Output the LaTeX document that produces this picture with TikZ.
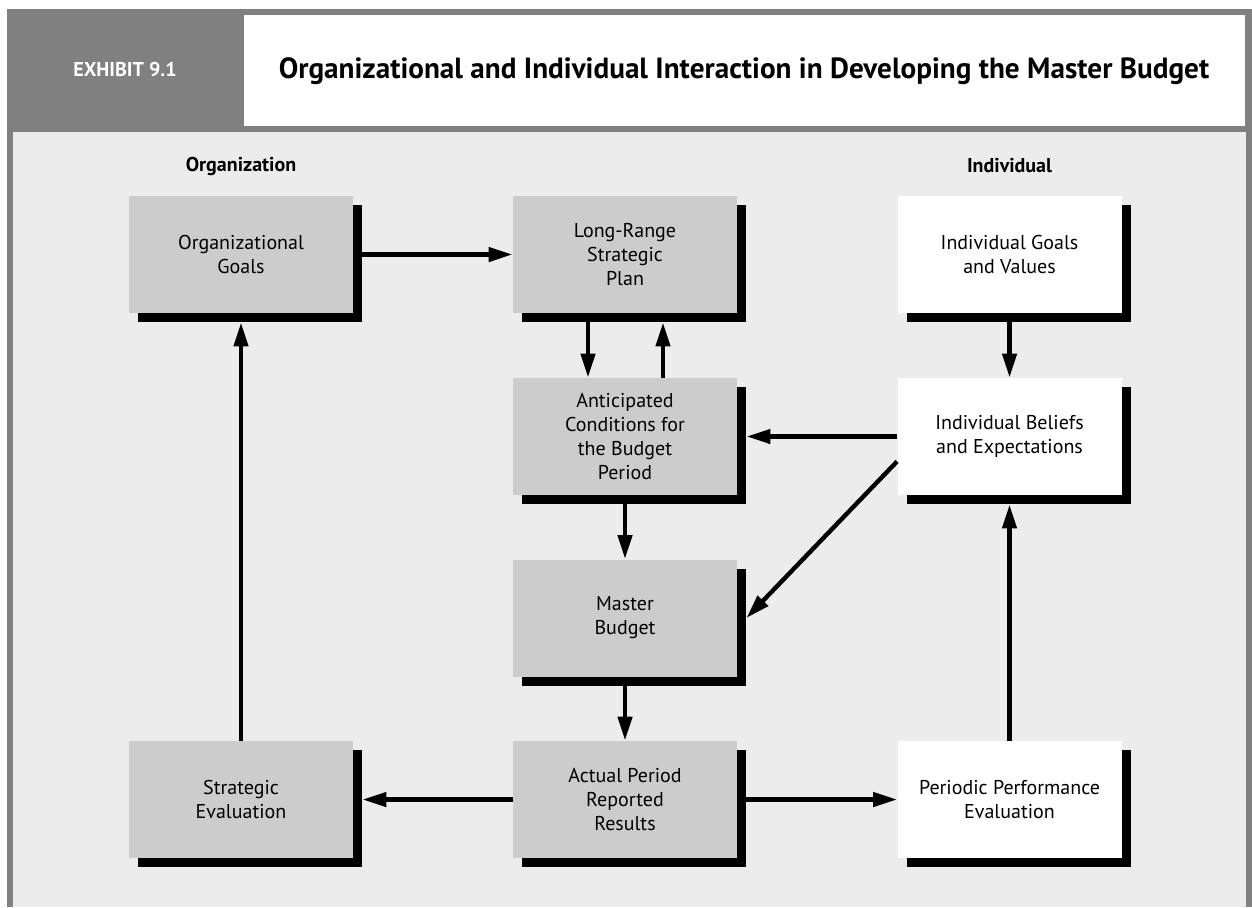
\documentclass[tikz,border=0pt]{standalone}
\usepackage{fontspec}
\setmainfont{PT Sans}
\usetikzlibrary{arrows.meta,calc,shadows}
\definecolor{framegray}{HTML}{808080}
\definecolor{panelgray}{HTML}{ECECEC}
\definecolor{boxgray}{HTML}{CCCCCC}

\begin{document}
\begin{tikzpicture}[x=0.5pt,y=-0.5pt,
    stage/.style={fill=boxgray,minimum width=112pt,minimum height=58.5pt,inner sep=0pt,align=center,
      font=\fontsize{10}{12}\selectfont,
      drop shadow={shadow xshift=4.5pt,shadow yshift=-4.5pt,fill=black,opacity=1}},
    personal/.style={stage,fill=white},
    head/.style={font=\fontsize{10}{12}\selectfont\bfseries},
    flow/.style={line width=2.2pt,-{Triangle[length=12pt,width=7pt]}}]
  \useasboundingbox (0,0) rectangle (1252,907);
  \fill[framegray] (7,9) rectangle (1252,907);
  \fill[white] (244,15) rectangle (1245,126);
  \fill[panelgray] (13,132) rectangle (1246,907);
  \node[head,white] (exhibit) at (125,69) {EXHIBIT 9.1};
  \node[font=\fontsize{14.6}{17}\selectfont\bfseries] (title) at (744,71)
    {Organizational and Individual Interaction in Developing the Master Budget};
  \node[head] (orghead) at (241,166) {Organization};
  \node[head] (indhead) at (1009.5,166) {Individual};

  \node[stage] (og) at (241,254.5) {Organizational\\Goals};
  \node[stage] (lrp) at (625,254.5) {Long-Range\\Strategic\\Plan};
  \node[personal] (ig) at (1009.5,254.5) {Individual Goals\\and Values};
  \node[stage] (ant) at (625,436.5) {Anticipated\\Conditions for\\the Budget\\Period};
  \node[personal] (bel) at (1009.5,436.5) {Individual Beliefs\\and Expectations};
  \node[stage] (mb) at (625,618) {Master\\Budget};
  \node[stage] (se) at (241,799.5) {Strategic\\Evaluation};
  \node[stage] (act) at (625,799.5) {Actual Period\\Reported\\Results};
  \node[personal] (ppe) at (1009.5,799.5) {Periodic Performance\\Evaluation};

  \draw[flow] ($(og.east)+(4.5pt,0)$) -- (lrp.west);
  \draw[flow] ($(lrp.south)+(-18.5pt,-4.5pt)$) -- ($(ant.north)+(-18.5pt,0)$);
  \draw[flow] ($(ant.north)+(19pt,0)$) -- ($(lrp.south)+(19pt,-4.5pt)$);
  \draw[flow] ($(ig.south)+(0,-4.5pt)$) -- (bel.north);
  \draw[flow] (bel.west) -- ($(ant.east)+(4.5pt,0)$);
  \draw[flow] ($(bel.south west)+(0,17pt)$) -- ($(mb.east)+(4.5pt,0)$);
  \draw[flow] ($(ant.south)+(0,-4.5pt)$) -- (mb.north);
  \draw[flow] ($(mb.south)+(0,-4.5pt)$) -- (act.north);
  \draw[flow] (act.west) -- ($(se.east)+(4.5pt,0)$);
  \draw[flow] ($(act.east)+(4.5pt,0)$) -- (ppe.west);
  \draw[flow] (ppe.north) -- ($(bel.south)+(0,-4.5pt)$);
  \draw[flow] (se.north) -- ($(og.south)+(0,-4.5pt)$);
\end{tikzpicture}
\end{document}
